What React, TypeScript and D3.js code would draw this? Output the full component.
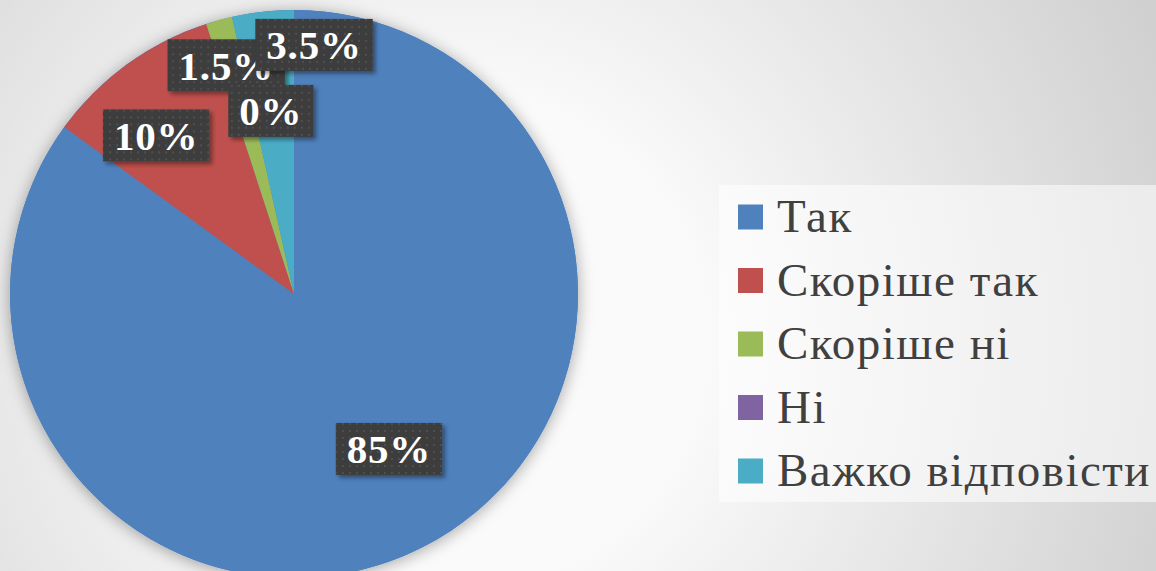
import React, {useEffect, useRef} from 'react';
import * as d3 from 'd3';

const categories = ['Так', 'Скоріше так', 'Скоріше ні', 'Ні', 'Важко відповісти'];
const values = [85, 10, 1.5, 0, 3.5];
const labels = ['85%', '10%', '1.5%', '0%', '3.5%'];
const colors = ['#4f81bd', '#c0504d', '#9bbb59', '#8064a2', '#4bacc6'];

// label placement (radius fraction, angle in degrees from 12 o'clock)
const labelPos = [
  [0.64, 148.5],
  [0.74, 319],
  [0.84, 343.5],
  [0.65, 352.8],
  [0.88, 4.6],
];

const W = 1156;
const H = 571;

const draw = (el) => {
  d3.select(el).selectAll('*').remove();
  const svg = d3.select(el).attr('width', W).attr('height', H);

  const defs = svg.append('defs');
  const bg = defs
    .append('radialGradient')
    .attr('id', 'bg')
    .attr('gradientUnits', 'userSpaceOnUse')
    .attr('cx', 460)
    .attr('cy', 340)
    .attr('r', 800);
  bg.append('stop').attr('offset', 0.3).attr('stop-color', '#fafafa');
  bg.append('stop').attr('offset', 1).attr('stop-color', '#cdcdcd');

  const pat = defs
    .append('pattern')
    .attr('id', 'dots')
    .attr('patternUnits', 'userSpaceOnUse')
    .attr('width', 7)
    .attr('height', 7);
  pat.append('rect').attr('width', 7).attr('height', 7).attr('fill', '#3d3d3d');
  pat
    .append('rect')
    .attr('x', 2)
    .attr('y', 2)
    .attr('width', 2)
    .attr('height', 2)
    .attr('fill', '#4f4f4f');

  const sh = defs.append('filter').attr('id', 'pieShadow').attr('x', '-20%').attr('y', '-20%').attr('width', '140%').attr('height', '140%');
  sh.append('feDropShadow').attr('dx', 0).attr('dy', 2).attr('stdDeviation', 8).attr('flood-color', '#000').attr('flood-opacity', 0.35);

  const bs = defs.append('filter').attr('id', 'boxShadow').attr('x', '-20%').attr('y', '-20%').attr('width', '150%').attr('height', '150%');
  bs.append('feDropShadow').attr('dx', 3).attr('dy', 3).attr('stdDeviation', 2).attr('flood-color', '#000').attr('flood-opacity', 0.4);

  svg.append('rect').attr('width', W).attr('height', H).attr('fill', 'url(#bg)');

  const cx = 294;
  const cy = 294;
  const r = 284;

  const pie = d3.pie().sort(null).value(d => d)(values);
  const arc = d3.arc().innerRadius(0).outerRadius(r);

  const g = svg.append('g').attr('transform', `translate(${cx}, ${cy})`);

  g.append('circle').attr('r', r).attr('fill', '#4f81bd').attr('filter', 'url(#pieShadow)');

  g.selectAll('path')
    .data(pie)
    .enter()
    .append('path')
    .attr('d', arc)
    .attr('fill', (d, i) => colors[i]);

  // data labels
  const lg = g.append('g');
  labels.forEach((t, i) => {
    const [f, deg] = labelPos[i];
    const a = (deg * Math.PI) / 180;
    const x = Math.sin(a) * r * f;
    const y = -Math.cos(a) * r * f;
    const grp = lg.append('g').attr('transform', `translate(${x}, ${y})`);
    const box = grp.append('rect').attr('fill', 'url(#dots)').attr('filter', 'url(#boxShadow)');
    const txt = grp
      .append('text')
      .attr('text-anchor', 'middle')
      .attr('dy', '0.35em')
      .attr('fill', '#fff')
      .attr('font-family', 'Liberation Serif, serif')
      .attr('font-weight', 'bold')
      .attr('font-size', 41)
      .attr('letter-spacing', 0.8)
      .text(t);
    const w = txt.node().getComputedTextLength() + 22;
    box.attr('x', -w / 2).attr('y', -26).attr('width', w).attr('height', 52);
  });

  // legend
  const leg = svg.append('g');
  leg
    .append('rect')
    .attr('x', 719)
    .attr('y', 185)
    .attr('width', W - 719)
    .attr('height', 317)
    .attr('fill', '#fff')
    .attr('opacity', 0.55);

  const y = d3
    .scalePoint()
    .domain(categories)
    .range([217, 471]);

  const item = leg
    .selectAll('g.item')
    .data(categories)
    .enter()
    .append('g')
    .attr('class', 'item')
    .attr('transform', d => `translate(738, ${y(d)})`);

  item
    .append('rect')
    .attr('y', -12.5)
    .attr('width', 25)
    .attr('height', 25)
    .attr('fill', (d, i) => colors[i]);

  item
    .append('text')
    .attr('x', 39)
    .attr('y', 15)
    .attr('fill', '#404040')
    .attr('font-family', 'Liberation Serif, serif')
    .attr('font-size', 47)
    .attr('letter-spacing', 1.5)
    .text(d => d);
};

export default function App() {
  const ref = useRef(null);
  useEffect(() => {
    document.body.style.margin = '0';
    draw(ref.current);
  }, []);
  return <svg ref={ref} style={{display: 'block'}} />;
}
